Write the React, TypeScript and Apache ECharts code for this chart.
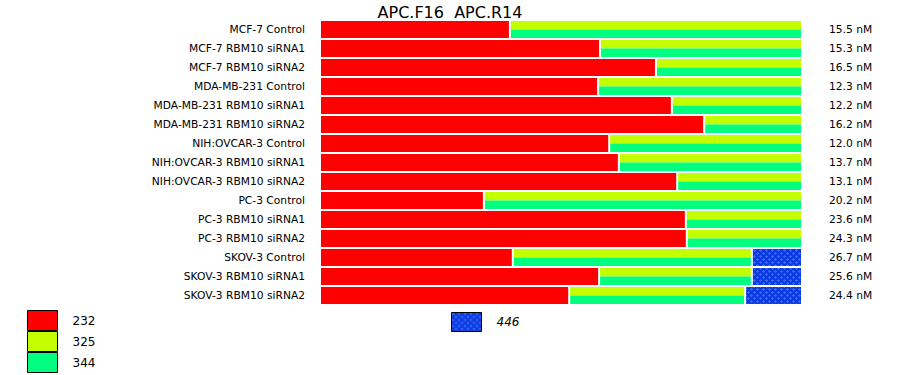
import React, { useEffect, useRef } from "react";
import * as echarts from "echarts";

const categories = [
  "MCF-7 Control",
  "MCF-7 RBM10 siRNA1",
  "MCF-7 RBM10 siRNA2",
  "MDA-MB-231 Control",
  "MDA-MB-231 RBM10 siRNA1",
  "MDA-MB-231 RBM10 siRNA2",
  "NIH:OVCAR-3 Control",
  "NIH:OVCAR-3 RBM10 siRNA1",
  "NIH:OVCAR-3 RBM10 siRNA2",
  "PC-3 Control",
  "PC-3 RBM10 siRNA1",
  "PC-3 RBM10 siRNA2",
  "SKOV-3 Control",
  "SKOV-3 RBM10 siRNA1",
  "SKOV-3 RBM10 siRNA2",
];

// share of each isoform (% of bar)
const v232 = [39.4, 58.1, 69.7, 57.7, 73.0, 79.7, 60.0, 62.0, 74.1, 34.0, 75.9, 76.1, 40.0, 57.9, 51.7];
const v325 = [60.6, 41.9, 30.3, 42.3, 27.0, 20.3, 40.0, 38.0, 25.9, 66.0, 24.1, 23.9, 49.6, 31.7, 36.5];
const v344 = [60.6, 41.9, 30.3, 42.3, 27.0, 20.3, 40.0, 38.0, 25.9, 66.0, 24.1, 23.9, 49.6, 31.7, 36.5];
const v446 = [0, 0, 0, 0, 0, 0, 0, 0, 0, 0, 0, 0, 10.4, 10.4, 11.8];

const concentrations = [15.5, 15.3, 16.5, 12.3, 12.2, 16.2, 12.0, 13.7, 13.1, 20.2, 23.6, 24.3, 26.7, 25.6, 24.4];

const titleText = "APC.F16  APC.R14";
const FONT = "DejaVu Sans";

function makePattern(): HTMLCanvasElement {
  const c = document.createElement("canvas");
  c.width = 6;
  c.height = 6;
  const ctx = c.getContext("2d")!;
  ctx.fillStyle = "#0b3ae0";
  ctx.fillRect(0, 0, 6, 6);
  ctx.fillStyle = "#3568f4";
  const plus = (cx: number, cy: number) => {
    ctx.fillRect(cx, cy - 1, 1, 3);
    ctx.fillRect(cx - 1, cy, 3, 1);
  };
  plus(1, 1);
  plus(4, 4);
  return c;
}

export default function App() {
  const ref = useRef<HTMLDivElement>(null);
  useEffect(() => {
    if (!ref.current) return;
    const chart = echarts.init(ref.current, undefined, { renderer: "svg" });
    const pattern = { image: makePattern(), repeat: "repeat" } as any;

    const mkData = (starts: number[], lens: number[]) =>
      categories.map((_, i) => [i, starts[i], lens[i]]);

    const seg = (part: "full" | "top" | "bottom", color: any) =>
      (params: any, api: any) => {
        const len = api.value(2);
        if (!len) return { type: "group", children: [] };
        const idx = api.value(0);
        const s = api.coord([api.value(1), idx]);
        const e = api.coord([api.value(1) + len, idx]);
        const band = api.size([0, 1])[1];
        const h = band - 2;
        const top = s[1] - h / 2;
        let y = top;
        let hh = h;
        if (part === "top") hh = h / 2;
        if (part === "bottom") {
          y = top + h / 2;
          hh = h / 2;
        }
        return {
          type: "rect",
          shape: { x: s[0], y, width: e[0] - s[0] - 2, height: hh },
          style: { fill: color },
        };
      };

    const starts0 = categories.map(() => 0);
    const starts446 = categories.map((_, i) => v232[i] + Math.max(v325[i], v344[i]));

    const option: any = {
      animation: false,
      textStyle: { fontFamily: FONT },
      title: {
        text: titleText,
        left: "center",
        top: -1,
        textStyle: { fontFamily: FONT, fontSize: 16, fontWeight: "normal", color: "#000" },
      },
      grid: { left: 321, top: 20, width: 482, height: 285, containLabel: false },
      xAxis: { type: "value", min: 0, max: 100, show: false },
      yAxis: [
        {
          type: "category",
          data: categories,
          inverse: true,
          axisLine: { show: false },
          axisTick: { show: false },
          splitLine: { show: false },
          axisLabel: { margin: 16, fontSize: 10.7, color: "#000", fontFamily: FONT },
        },
        {
          type: "category",
          position: "right",
          data: concentrations.map((v) => v.toFixed(1) + " nM"),
          inverse: true,
          axisLine: { show: false },
          axisTick: { show: false },
          splitLine: { show: false },
          axisLabel: { margin: 26, fontSize: 10.7, color: "#000", fontFamily: FONT, align: "left" },
        },
      ],
      legend: [
        {
          data: ["232", "325", "344"],
          orient: "vertical",
          left: 27,
          top: 310,
          itemWidth: 30,
          itemHeight: 20,
          itemGap: 0,
          icon: "rect",
          itemStyle: { borderColor: "#000", borderWidth: 1 },
          selectedMode: false,
          padding: 0,
          textStyle: { fontSize: 12, color: "#000", fontFamily: FONT, padding: [0, 0, 0, 10] },
        },
        {
          data: ["446"],
          left: 451,
          top: 312,
          itemWidth: 30,
          itemHeight: 19,
          icon: "rect",
          itemStyle: { borderColor: "#000", borderWidth: 1 },
          selectedMode: false,
          padding: 0,
          textStyle: { fontSize: 12, color: "#000", fontFamily: FONT, fontStyle: "italic", padding: [0, 0, 0, 10] },
        },
      ],
      series: [
        {
          name: "232",
          type: "custom",
          color: "#ff0000",
          encode: { x: 1, y: 0 },
          renderItem: seg("full", "#ff0000"),
          data: mkData(starts0, v232),
        },
        {
          name: "325",
          type: "custom",
          color: "#c4ff00",
          encode: { x: 1, y: 0 },
          renderItem: seg("top", "#c4ff00"),
          data: mkData(v232, v325),
        },
        {
          name: "344",
          type: "custom",
          color: "#00ff7f",
          encode: { x: 1, y: 0 },
          renderItem: seg("bottom", "#00ff7f"),
          data: mkData(v232, v344),
        },
        {
          name: "446",
          type: "custom",
          color: pattern,
          encode: { x: 1, y: 0 },
          renderItem: seg("full", pattern),
          data: mkData(starts446, v446),
        },
      ],
    };
    chart.setOption(option);
    return () => chart.dispose();
  }, []);
  return (
    <div
      ref={ref}
      style={{ position: "absolute", left: 0, top: 0, width: 900, height: 375, background: "#fff" }}
    />
  );
}
